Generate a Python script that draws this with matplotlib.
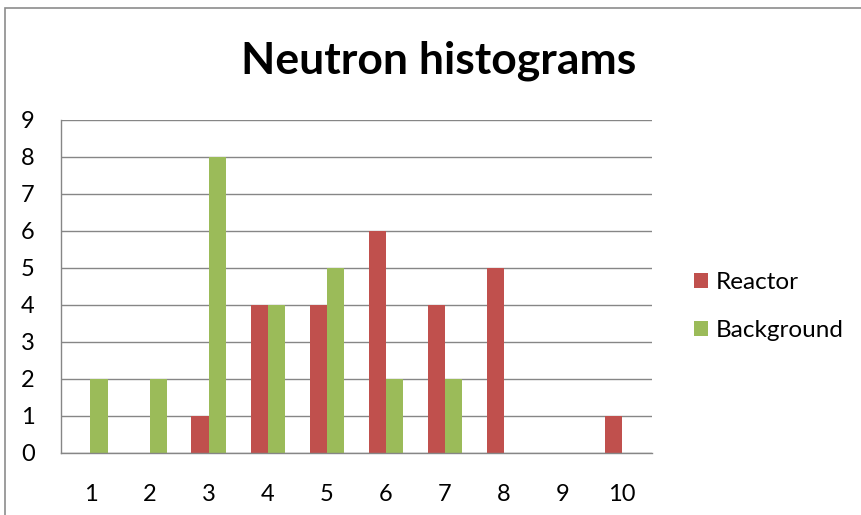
import numpy as np
import matplotlib.pyplot as plt
from matplotlib.patches import Rectangle

plt.rcParams['font.family'] = ['Lato', 'DejaVu Sans']

# data
bins = ['1', '2', '3', '4', '5', '6', '7', '8', '9', '10']
reactor = [0, 0, 1, 4, 4, 6, 4, 5, 0, 1]
background = [2, 2, 8, 4, 5, 2, 2, 0, 0, 0]

red = '#C0504D'
green = '#9BBB59'
grid = '#868686'

fig = plt.figure(figsize=(8.61, 5.15), dpi=100)
ax = fig.add_axes([0.0708, 0.1204, 0.686, 0.6466])

x = np.arange(len(bins))
w = 0.29
ax.bar(x - w / 2, reactor, w, color=red, label='Reactor')
ax.bar(x + w / 2, background, w, color=green, label='Background')

ax.set_xlim(-0.5, len(bins) - 0.5)
ax.set_ylim(0, 9)
ax.set_yticks(range(10))
ax.set_xticks(x)
ax.set_xticklabels(bins)
ax.tick_params(length=0, labelsize=17, colors='black')
ax.tick_params(axis='x', pad=22)
ax.tick_params(axis='y', pad=19)
ax.yaxis.grid(True, color=grid, linewidth=1)
ax.set_axisbelow(True)
for s in ['top', 'right']:
    ax.spines[s].set_visible(False)
for s in ['left', 'bottom']:
    ax.spines[s].set_color(grid)
    ax.spines[s].set_linewidth(1)

fig.text(0.509, 0.883, 'Neutron histograms', ha='center', va='center',
         fontsize=32, fontweight='bold')

ax.legend(loc='center left', bbox_to_anchor=(1.035, 0.44), frameon=False,
          fontsize=17.5, handlelength=0.55, handleheight=0.55, handletextpad=0.35,
          labelspacing=1.1)

# outer chart border
fig.patches.append(Rectangle((5 / 861, -0.1), 1.2, 1 - 8 / 515 + 0.1,
                             transform=fig.transFigure, fill=False,
                             edgecolor='#8C8C8C', linewidth=1.2))

fig.savefig('out.png', dpi=100)
